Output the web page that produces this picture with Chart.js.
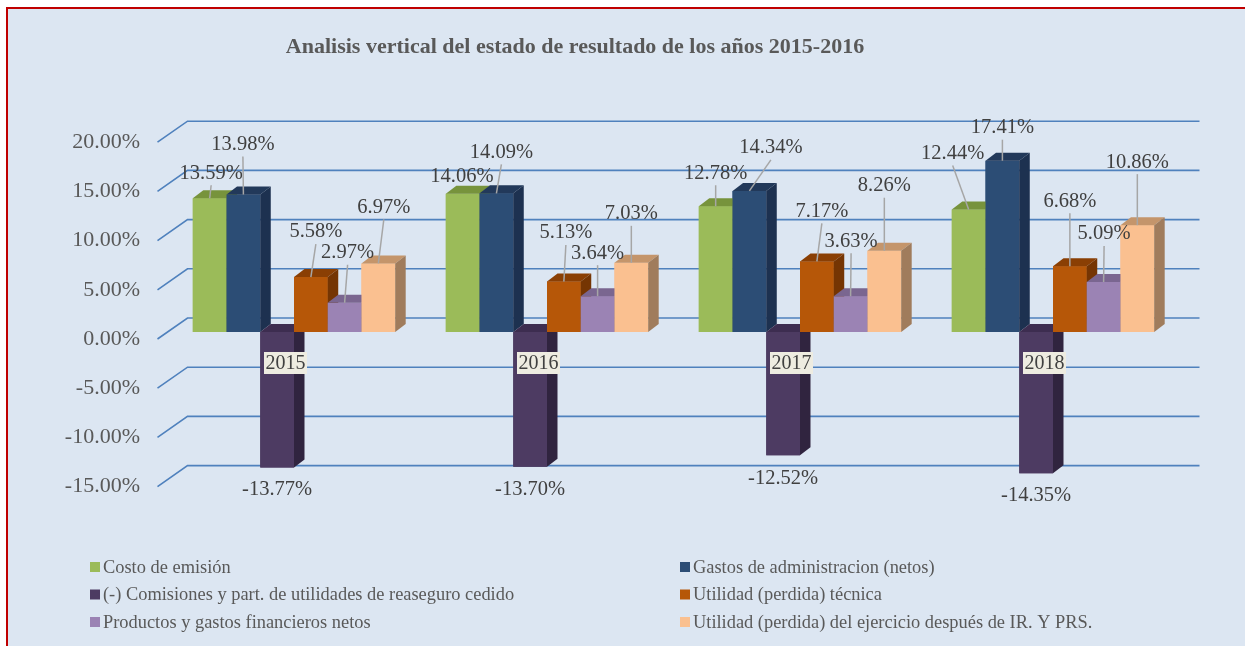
<!DOCTYPE html>
<html>
<head>
<meta charset="utf-8">
<script src="https://cdn.jsdelivr.net/npm/chart.js@4.4.1/dist/chart.umd.min.js"></script>
<style>
  html, body { margin: 0; padding: 0; background: #fff; }
  #wrap { position: relative; width: 1245px; height: 646px; }
</style>
</head>
<body>
<div id="wrap"><canvas id="chart" width="1245" height="646"></canvas></div>
<script>
// data
const years = ['2015', '2016', '2017', '2018'];
const seriesNames = [
  'Costo de emisión',
  'Gastos de administracion (netos)',
  '(-) Comisiones y part. de utilidades de reaseguro cedido',
  'Utilidad (perdida) técnica',
  'Productos y gastos financieros netos',
  'Utilidad (perdida) del ejercicio después de IR. Y PRS.'
];
const costoEmision = [13.59, 14.06, 12.78, 12.44];
const gastosAdmin = [13.98, 14.09, 14.34, 17.41];
const comisiones = [-13.77, -13.70, -12.52, -14.35];
const utilidadTecnica = [5.58, 5.13, 7.17, 6.68];
const productosFin = [2.97, 3.64, 3.63, 5.09];
const utilidadEjercicio = [6.97, 7.03, 8.26, 10.86];
const yMin = -15, yMax = 20, yStep = 5;

const allSeries = [costoEmision, gastosAdmin, comisiones, utilidadTecnica, productosFin, utilidadEjercicio];

// colours: front, top, side
const frontCol = ['#9BBB59', '#2C4D75', '#4D3B62', '#B65708', '#9B83B4', '#FAC090'];
const topCol   = ['#77933C', '#22395A', '#3D2D50', '#8A3F04', '#7A6690', '#C4956B'];
const sideCol  = ['#6F8A38', '#1D3150', '#30243F', '#753503', '#695780', '#A07C5C'];

// where each value label sits relative to its bar end (dx, dy)
const labelDx = [
  [1.5, -0.7, 0, -16],
  [-0.5, 5, 21.5, 0],
  [0, 0, 0, 0],
  [5, 2, 5, 0],
  [3, 0, 0.5, 0.5],
  [5.5, 0, 0, 0]
];
const labelDy = [
  [-26, -18, -34, -57],
  [-51, -42, -44, -34],
  [21.5, 22, 22, 21],
  [-46, -49.5, -51, -66],
  [-51, -44, -56, -49],
  [-57, -50, -66, -64]
];

const SERIF = '"Liberation Serif", "Times New Roman", serif';
const DX = 10.5, DY = -8;          // bar depth
const WALL_DX = 20, WALL_DY = -14;  // back wall from bar plane
const FRONT_DX = -10, FRONT_DY = 7; // floor front edge

function poly(ctx, pts, fill) {
  ctx.beginPath();
  ctx.moveTo(pts[0][0], pts[0][1]);
  for (let k = 1; k < pts.length; k++) ctx.lineTo(pts[k][0], pts[k][1]);
  ctx.closePath();
  ctx.fillStyle = fill;
  ctx.fill();
}

const scene3d = {
  id: 'scene3d',
  beforeDraw(chart) {
    const ctx = chart.ctx;
    ctx.save();
    ctx.fillStyle = '#ffffff';
    ctx.fillRect(0, 0, 1245, 646);
    ctx.fillStyle = '#DCE6F2';
    ctx.fillRect(8, 9, 1237, 637);
    ctx.strokeStyle = '#C00000';
    ctx.lineWidth = 2;
    ctx.beginPath();
    ctx.moveTo(7, 646); ctx.lineTo(7, 8); ctx.lineTo(1245, 8);
    ctx.stroke();
    ctx.fillStyle = '#595959';
    ctx.font = 'bold 22px ' + SERIF;
    ctx.textAlign = 'center';
    ctx.textBaseline = 'middle';
    ctx.fillText('Analisis vertical del estado de resultado de los años 2015-2016', 575, 47);
    ctx.restore();
  },
  beforeDatasetsDraw(chart) {
    const ctx = chart.ctx, ys = chart.scales.y, area = chart.chartArea;
    ctx.save();
    ctx.strokeStyle = '#4F81BD';
    ctx.lineWidth = 1.6;
    for (let v = yMin; v <= yMax; v += yStep) {
      const y = ys.getPixelForValue(v);
      ctx.beginPath();
      ctx.moveTo(area.left + FRONT_DX, y + FRONT_DY);
      ctx.lineTo(area.left + WALL_DX, y + WALL_DY);
      ctx.lineTo(area.right + WALL_DX, y + WALL_DY);
      ctx.stroke();
    }
    ctx.restore();
  },
  afterDatasetsDraw(chart) {
    const ctx = chart.ctx, xs = chart.scales.x, ys = chart.scales.y;
    ctx.save();
    // bars, left to right: front, top, side
    for (let i = 0; i < allSeries.length; i++) {
      chart.getDatasetMeta(i).data.forEach(bar => {
        const p = bar.getProps(['x', 'y', 'base', 'width'], true);
        const l = p.x - p.width / 2, r = p.x + p.width / 2;
        const t = Math.min(p.y, p.base), b = Math.max(p.y, p.base);
        poly(ctx, [[l, t], [r, t], [r, b], [l, b]], frontCol[i]);
        poly(ctx, [[l, t], [l + DX, t + DY], [r + DX, t + DY], [r, t]], topCol[i]);
        poly(ctx, [[r, t], [r + DX, t + DY], [r + DX, b + DY], [r, b]], sideCol[i]);
      });
    }
    // category labels
    ctx.font = '20px ' + SERIF;
    ctx.textAlign = 'center';
    ctx.textBaseline = 'middle';
    years.forEach((yr, j) => {
      const cx = xs.getPixelForValue(j) - 8.5;
      const cy = ys.getPixelForValue(0) + 31;
      ctx.fillStyle = '#EEECE1';
      ctx.fillRect(cx - 21.5, cy - 11, 43, 22);
      ctx.fillStyle = '#404040';
      ctx.fillText(yr, cx, cy + 1);
    });
    // value labels with leader lines
    ctx.font = '20.5px ' + SERIF;
    for (let i = 0; i < allSeries.length; i++) {
      chart.getDatasetMeta(i).data.forEach((bar, j) => {
        const v = allSeries[i][j];
        const p = bar.getProps(['x', 'y', 'base'], true);
        const cx = p.x + labelDx[i][j], cy = p.y + labelDy[i][j];
        if (v >= 0 && p.y - (cy + 13) > 5) {
          ctx.strokeStyle = '#A6A6A6';
          ctx.lineWidth = 1.5;
          ctx.beginPath();
          ctx.moveTo(cx, cy + 13);
          ctx.lineTo(p.x, p.y);
          ctx.stroke();
        }
        ctx.fillStyle = '#404040';
        ctx.fillText(v.toFixed(2) + '%', cx, cy + 1);
      });
    }
    ctx.restore();
  },
  afterDraw(chart) {
    const ctx = chart.ctx;
    ctx.save();
    ctx.font = '18.4px ' + SERIF;
    ctx.textAlign = 'left';
    ctx.textBaseline = 'middle';
    const colX = [90, 680], rowY = [567, 594.5, 622];
    chart.data.datasets.forEach((ds, i) => {
      const x = colX[i % 2], y = rowY[Math.floor(i / 2)];
      ctx.fillStyle = frontCol[i];
      ctx.fillRect(x, y - 5, 10, 10);
      ctx.fillStyle = '#595959';
      ctx.fillText(ds.label, x + 13, y + 1);
    });
    ctx.restore();
  }
};

new Chart(document.getElementById('chart'), {
  type: 'bar',
  data: {
    labels: years,
    datasets: allSeries.map((vals, i) => ({
      label: seriesNames[i],
      data: vals,
      backgroundColor: frontCol[i],
      borderWidth: 0,
      categoryPercentage: 0.8,
      barPercentage: 1.0
    }))
  },
  options: {
    responsive: false,
    animation: false,
    devicePixelRatio: 1,
    layout: { padding: { left: 0, right: 65.5, top: 135.2, bottom: 166.4 } },
    plugins: { legend: { display: false }, title: { display: false }, tooltip: { enabled: false } },
    scales: {
      x: { display: false },
      y: {
        min: yMin,
        max: yMax,
        border: { display: false },
        grid: { display: false, drawTicks: false },
        afterFit(s) { s.width = 167.5; },
        ticks: {
          stepSize: yStep,
          padding: 27.5,
          labelOffset: 7,
          color: '#595959',
          font: { family: SERIF, size: 22 },
          callback: v => Number(v).toFixed(2) + '%'
        }
      }
    }
  },
  plugins: [scene3d]
});
</script>
</body>
</html>
